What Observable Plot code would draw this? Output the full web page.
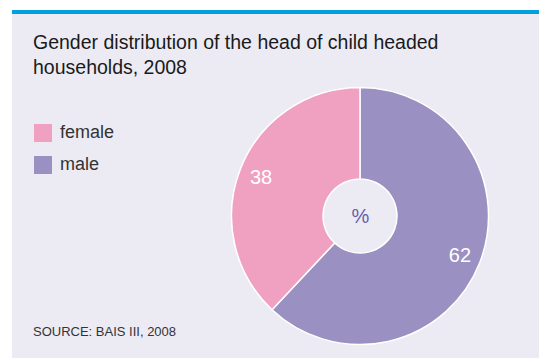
<!DOCTYPE html>
<html>
<head>
<meta charset="utf-8">
<script src="https://cdn.jsdelivr.net/npm/d3@7"></script>
<script src="https://cdn.jsdelivr.net/npm/@observablehq/plot@0.6"></script>
<style>
  html, body { margin: 0; padding: 0; background: #ffffff; }
  #panel { position: absolute; left: 12px; top: 10px; width: 527px; height: 348px; background: #ecebf4; border-top: 4px solid #009fe0; box-sizing: border-box; font-family: "Liberation Sans", Arial, sans-serif; }
  #title { position: absolute; left: 21px; top: 16px; width: 460px; font-size: 19.5px; line-height: 25px; color: #1a1a1a; }
  .leg { position: absolute; left: 22px; font-size: 18px; color: #333; display: flex; align-items: center; }
  .leg span.sw { display: inline-block; width: 18px; height: 18px; margin-right: 8px; }
  #source { position: absolute; left: 21px; top: 310px; font-size: 13px; color: #333; }
  #chart { position: absolute; left: 208px; top: 66px; }
</style>
</head>
<body>
<div id="panel">
  <div id="title">Gender distribution of the head of child headed households, 2008</div>
  <div id="legend"></div>
  <div id="source">SOURCE: BAIS III, 2008</div>
  <div id="chart"></div>
</div>
<script>
const categories = ["male", "female"];
const values = [62, 38];
const colors = ["#9b90c2", "#f0a0c1"];
const legendOrder = ["female", "male"];
const centerLabel = "%";

// legend
const legend = document.getElementById("legend");
legendOrder.forEach((c, i) => {
  const d = document.createElement("div");
  d.className = "leg";
  d.style.top = (108 + i * 32) + "px";
  d.innerHTML = `<span class="sw" style="background:${colors[categories.indexOf(c)]}"></span>${c}`;
  legend.appendChild(d);
});

const data = categories.map((c, i) => ({category: c, value: values[i]}));
const arcs = d3.pie().sort(null).value(d => d.value)(data);
const innerFrac = 37 / 128.5;
const labelFrac = 107 / 128.5;

const W = 280, H = 272, cx = 140, cy = 136, R = 128.5;

function donut(index, scales) {
  const sx = scales.x, sy = scales.y;
  const r = sx(1) - sx(0);
  const ox = sx(0), oy = sy(0);
  const arc = d3.arc().innerRadius(r * innerFrac).outerRadius(r);
  const g = d3.create("svg:g").attr("transform", `translate(${ox},${oy})`);
  g.selectAll("path").data(arcs).join("path")
    .attr("d", arc)
    .attr("fill", d => scales.color(d.data.category))
    .attr("stroke", "#ffffff")
    .attr("stroke-width", 1.5)
    .attr("stroke-linejoin", "round");
  return g.node();
}

const labels = arcs.map(a => {
  const m = (a.startAngle + a.endAngle) / 2;
  return {x: labelFrac * Math.sin(m), y: labelFrac * Math.cos(m), text: String(a.data.value)};
});

const plot = Plot.plot({
  width: W,
  height: H,
  margin: 0,
  style: {background: "transparent", overflow: "visible"},
  x: {domain: [-1, 1], range: [cx - R, cx + R], axis: null},
  y: {domain: [-1, 1], range: [cy + R, cy - R], axis: null},
  color: {domain: categories, range: colors},
  marks: [
    donut,
    Plot.text(labels, {x: "x", y: "y", text: "text", fill: "white", fontSize: 20, fontFamily: "Liberation Sans, Arial, sans-serif"}),
    Plot.text([centerLabel], {x: () => 0, y: () => 0, text: d => d, fill: "#6a5fa8", fontSize: 20, fontFamily: "Liberation Sans, Arial, sans-serif"})
  ]
});
document.getElementById("chart").appendChild(plot);
</script>
</body>
</html>
